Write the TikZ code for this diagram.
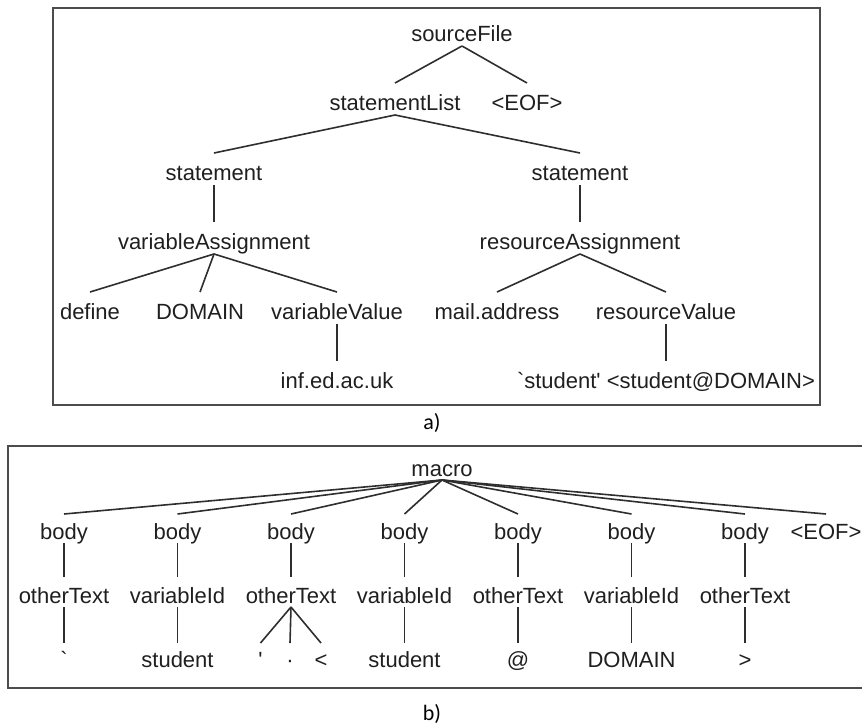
\documentclass[tikz,border=0pt]{standalone}
\usepackage{fontspec}
\setmainfont{Liberation Sans}[Ligatures=TeXOff]
\newfontfamily\captionfont{Carlito}
\begin{document}
\begin{tikzpicture}[x=1pt,y=-1pt,
  tok/.style={anchor=base,inner sep=0pt,text=black!88,font=\fontsize{22}{26}\selectfont},
  treeline/.style={draw=black!82,line width=1.6pt},
  frame/.style={draw=black!70,line width=1.8pt},
  caption/.style={anchor=base,inner sep=0pt,font=\captionfont\fontsize{22}{26}\selectfont}]
\useasboundingbox (0,0) rectangle (862,726);

% ---------- a) parse tree of the source file ----------
\draw[frame] (53,8) rectangle (820,405);
\node[tok] (src)   at (462,41)  {sourceFile};
\node[tok] (slist) at (395,110) {statementList};
\node[tok] (eofA)  at (527,110) {<EOF>};
\node[tok] (stL)   at (214,180) {statement};
\node[tok] (stR)   at (580,180) {statement};
\node[tok] (vas)   at (214,249) {variableAssignment};
\node[tok] (ras)   at (580,249) {resourceAssignment};
\node[tok] (def)   at (90,319)  {define};
\node[tok] (dom)   at (200,319) {DOMAIN};
\node[tok] (vval)  at (337,319) {variableValue};
\node[tok] (mail)  at (497,319) {mail.address};
\node[tok] (rval)  at (666,319) {resourceValue};
\node[tok] (inf)   at (337,388) {inf.ed.ac.uk};
\node[tok] (rleaf) at (666,388) {`student' <student@DOMAIN>};

\foreach \p/\c in {src/slist,src/eofA,slist/stL,slist/stR,stL/vas,stR/ras,
                   vas/def,vas/dom,vas/vval,ras/mail,ras/rval,vval/inf,rval/rleaf}
  \draw[treeline] ([yshift=-5pt]\p.base) -- ([yshift=27pt]\c.base);

\node[caption] (capA) at (432,429) {a)};

% ---------- b) parse tree of the macro ----------
\draw[frame] (862,446) -- (8,446) -- (8,688) -- (862,688);
\node[tok] (mac) at (442,476) {macro};
\foreach \i/\x in {1/64,2/177.5,3/291,4/404.5,5/518,6/631.5,7/745}
  \node[tok] (b\i) at (\x,539) {body};
\node[tok] (eofB) at (826,539) {<EOF>};

\node[tok] (m1) at (64,603)    {otherText};
\node[tok] (m2) at (177.5,603) {variableId};
\node[tok] (m3) at (291,603)   {otherText};
\node[tok] (m4) at (404.5,603) {variableId};
\node[tok] (m5) at (518,603)   {otherText};
\node[tok] (m6) at (631.5,603) {variableId};
\node[tok] (m7) at (745,603)   {otherText};

\node[tok] (l1)  at (64,667)    {`};
\node[tok] (l2)  at (177.5,667) {student};
\node[tok] (l3a) at (260.5,667) {'};
\node[tok] (l3b) at (290,667)   {·};
\node[tok] (l3c) at (321,667)   {<};
\node[tok] (l4)  at (404.5,667) {student};
\node[tok] (l5)  at (518,667)   {@};
\node[tok] (l6)  at (631.5,667) {DOMAIN};
\node[tok] (l7)  at (745,667)   {>};

\foreach \c in {b1,b2,b3,b4,b5,b6,b7,eofB}
  \draw[treeline] ([yshift=-4pt]mac.base) -- ([yshift=25pt]\c.base);
\foreach \i in {1,...,7}
  \draw[treeline] ([yshift=-4pt]b\i.base) -- ([yshift=26pt]m\i.base);
\foreach \p/\c in {m1/l1,m2/l2,m3/l3a,m3/l3b,m3/l3c,m4/l4,m5/l5,m6/l6,m7/l7}
  \draw[treeline] ([yshift=-4pt]\p.base) -- ([yshift=24pt]\c.base);

\node[caption] (capB) at (432,720) {b)};
\end{tikzpicture}
\end{document}
